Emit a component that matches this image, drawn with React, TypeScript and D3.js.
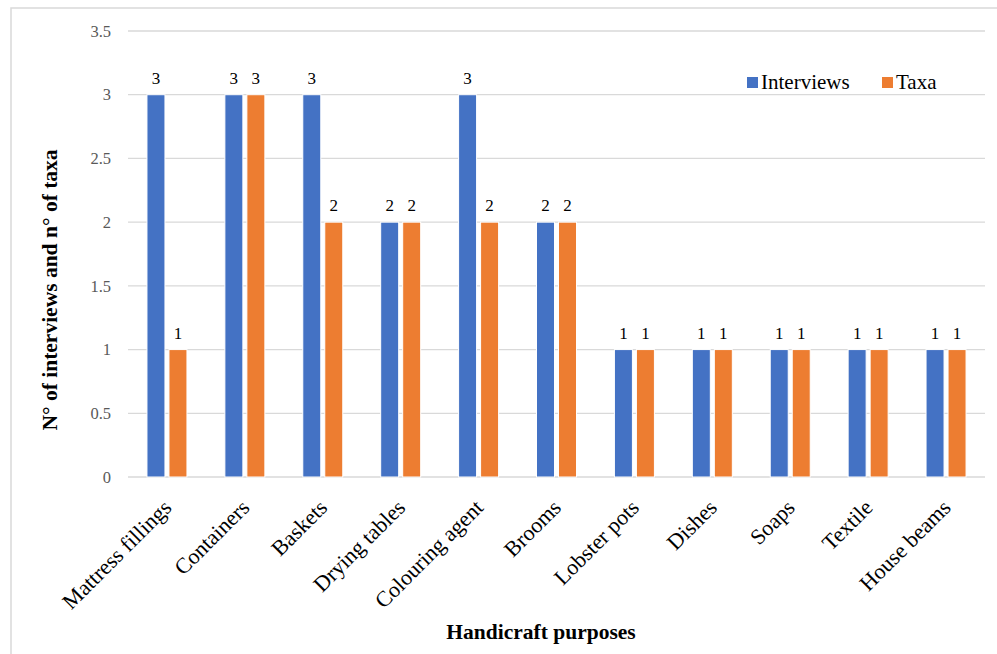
import React from "react";
import * as d3 from "d3";

const categories = [
  "Mattress fillings",
  "Containers",
  "Baskets",
  "Drying tables",
  "Colouring agent",
  "Brooms",
  "Lobster pots",
  "Dishes",
  "Soaps",
  "Textile",
  "House beams",
];
const interviews = [3, 3, 3, 2, 3, 2, 1, 1, 1, 1, 1];
const taxa = [1, 3, 2, 2, 2, 2, 1, 1, 1, 1, 1];
const yTicks = [0, 0.5, 1, 1.5, 2, 2.5, 3, 3.5];
const seriesNames = ["Interviews", "Taxa"];
const seriesColors = ["#4472C4", "#ED7D31"];

const W = 997;
const H = 654;
const plot = { left: 128, right: 985, top: 31, bottom: 477 };
const FONT = "'Liberation Serif', 'Times New Roman', Times, serif";

export default function App() {
  const x = d3
    .scaleBand<string>()
    .domain(categories)
    .range([plot.left, plot.right])
    .paddingInner(0)
    .paddingOuter(0);
  const y = d3.scaleLinear().domain([0, 3.5]).range([plot.bottom, plot.top]);
  const barW = 18;
  const gap = 4;
  const series = [interviews, taxa];

  return (
    <div style={{ position: "absolute", left: 0, top: 0 }}>
      <svg width={W} height={H} style={{ display: "block", background: "#fff" }}>
        <rect x={11} y={8} width={W + 20} height={H + 20} fill="#fff" stroke="#d9d9d9" strokeWidth={1.5} />
        {yTicks.map((t) => (
          <g key={t}>
            <line x1={plot.left} x2={plot.right} y1={y(t)} y2={y(t)} stroke="#d9d9d9" strokeWidth={1.3} />
            <text
              x={111}
              y={y(t)}
              dy="0.35em"
              textAnchor="end"
              fontFamily={FONT}
              fontSize={16.5}
              fill="#595959"
            >
              {t}
            </text>
          </g>
        ))}
        {categories.map((c, i) => {
          const cx = (x(c) as number) + x.bandwidth() / 2;
          return (
            <g key={c}>
              {series.map((vals, s) => {
                const bx = s === 0 ? cx - gap / 2 - barW : cx + gap / 2;
                const v = vals[i];
                return (
                  <g key={s}>
                    <rect
                      x={bx}
                      y={y(v)}
                      width={barW}
                      height={y(0) - y(v)}
                      fill={seriesColors[s]}
                      stroke="#fff"
                      strokeWidth={1}
                    />
                    <text
                      x={bx + barW / 2}
                      y={y(v) - 11}
                      textAnchor="middle"
                      fontFamily={FONT}
                      fontSize={17}
                      fill="#000"
                    >
                      {v}
                    </text>
                  </g>
                );
              })}
              <text
                transform={`translate(${cx - 5},${plot.bottom + 21}) rotate(-45)`}
                textAnchor="end"
                dy="0.7em"
                fontFamily={FONT}
                fontSize={22}
                fill="#000"
              >
                {c}
              </text>
            </g>
          );
        })}
        <text
          transform={`translate(57,290) rotate(-90)`}
          textAnchor="middle"
          fontFamily={FONT}
          fontSize={21.5}
          fontWeight="bold"
          fill="#000"
        >
          N° of interviews and n° of taxa
        </text>
        <text
          x={541}
          y={639}
          textAnchor="middle"
          fontFamily={FONT}
          fontSize={21.5}
          fontWeight="bold"
          fill="#000"
        >
          Handicraft purposes
        </text>
        {seriesNames.map((n, i) => {
          const lx = i === 0 ? 747 : 882;
          return (
            <g key={n}>
              <rect x={lx} y={77} width={11} height={11} fill={seriesColors[i]} />
              <text x={lx + 14} y={89} fontFamily={FONT} fontSize={21} fill="#000">
                {n}
              </text>
            </g>
          );
        })}
      </svg>
    </div>
  );
}
